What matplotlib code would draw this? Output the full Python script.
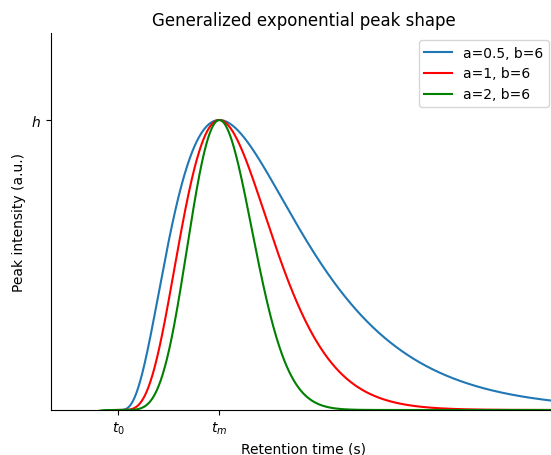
import numpy as np
import matplotlib
matplotlib.use("Agg")
import matplotlib.pyplot as plt

a_values = [0.5, 1, 2]
b_values = [6, 6, 6]
colors = ["#1f77b4", "red", "green"]
t0 = 2.0
tm = 5.0
h = 1.0
t_start, t_end = 0.0, 15.0

t = np.linspace(t_start, t_end, 1500)


def gex(t, a, b):
    # generalized exponential peak: h * x^(b-1) * exp((b-1)/a * (1 - x^a))
    x = (t - t0) / (tm - t0)
    with np.errstate(invalid="ignore"):
        return h * x ** (b - 1) * np.exp((b - 1) / a * (1 - np.power(x, a)))


fig = plt.figure(figsize=(5.51, 4.56), dpi=100)
ax = fig.add_axes([51 / 551, 45 / 456, 505 / 551, 377 / 456])

for a, b, c in zip(a_values, b_values, colors):
    ax.plot(t, gex(t, a, b), color=c, linewidth=1.5, label=f"a={a}, b={b}")

ax.set_xlim(t_start, t_end)
ax.set_ylim(0, 1.3 * h)
ax.set_xticks([t0, tm])
ax.set_xticklabels(["$t_0$", "$t_m$"])
ax.set_yticks([h])
ax.set_yticklabels(["$h$"])
ax.spines["top"].set_visible(False)
ax.spines["right"].set_visible(False)

ax.set_xlabel("Retention time (s)")
ax.set_ylabel("Peak intensity (a.u.)")
ax.set_title("Generalized exponential peak shape", fontsize=12)
ax.legend(loc="upper right")

fig.savefig("out.png", dpi=100)
